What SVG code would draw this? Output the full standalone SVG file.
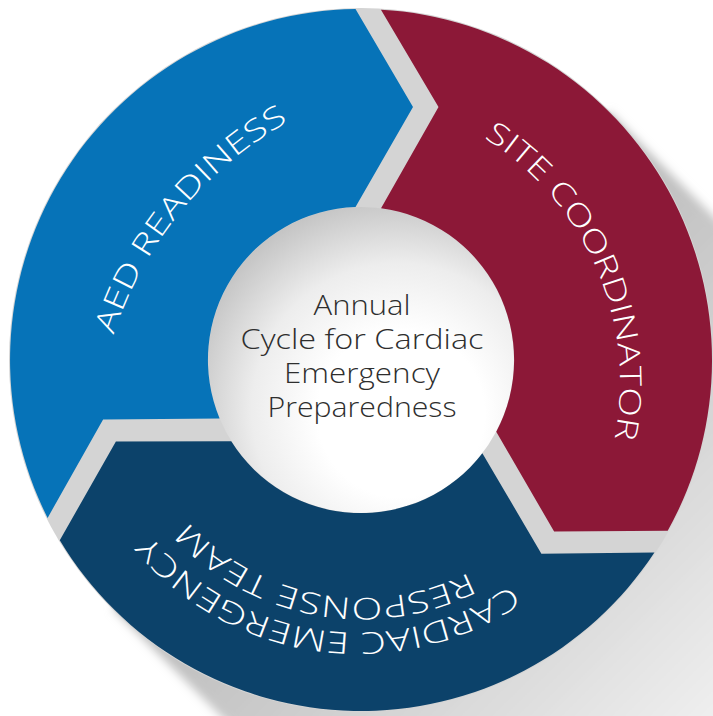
<svg xmlns="http://www.w3.org/2000/svg" width="713" height="716" viewBox="0 0 713 716">
<defs>
<style>
.lbl{font-family:"Open Sans","Noto Sans","DejaVu Sans",sans-serif;font-size:30px;font-weight:300;fill:#ffffff;}
.ctr{font-family:"Open Sans","Lato","Noto Sans",sans-serif;font-size:28px;font-weight:300;fill:#2e2e2e;text-anchor:middle;}
</style>
<linearGradient id="shadowGrad" gradientUnits="userSpaceOnUse" x1="361" y1="360" x2="900" y2="900">
<stop offset="0" stop-color="#b8b8b8"/>
<stop offset="0.35" stop-color="#d4d4d4"/>
<stop offset="0.7" stop-color="#f2f2f2"/>
<stop offset="1" stop-color="#ffffff"/>
</linearGradient>
<radialGradient id="discGrad" gradientUnits="userSpaceOnUse" cx="395" cy="405" r="209" fx="405" fy="420">
<stop offset="0.4" stop-color="#ffffff"/>
<stop offset="0.7" stop-color="#ededed"/>
<stop offset="1" stop-color="#c4c4c4"/>
</radialGradient>
<filter id="soft" x="-20%" y="-20%" width="140%" height="140%">
<feGaussianBlur stdDeviation="5"/>
</filter>
<path id="arrow" d="M 47.6 517.9 A 351 351 0 0 1 355.5 9 L 413 107 L 355.5 207 A 153 153 0 0 0 219.6 418.5 L 103.1 419.4 Z"/>
<path id="tpBlue" d="M 95.0 456.3 A 379 379 0 0 1 404.0 79.5"/>
<path id="tpMaroon" d="M 436.9 114.1 A 289 289 0 0 1 599.9 488.9"/>
<path id="tpNavyOuter" d="M 571.5 528.2 A 270.6 270.6 0 0 1 107.3 463.8"/>
<path id="tpNavyInner" d="M 542.5 514.3 A 236.5 236.5 0 0 1 139.4 441.4"/>
</defs>
<rect x="0" y="0" width="713" height="716" fill="#ffffff"/>
<g id="background">
<polygon points="609.2,111.8 1209,712 713,1208 112.8,608.2" fill="url(#shadowGrad)" filter="url(#soft)"/>
<circle cx="361" cy="360" r="352" fill="#d4d4d4"/>
<circle id="center-disc" cx="361" cy="360" r="153" fill="url(#discGrad)"/>
</g>
<g id="connectors"></g>
<g id="node-aed-readiness">
<use href="#arrow" fill="#0673b8"/>
<text class="lbl"><textPath href="#tpBlue" startOffset="50%" text-anchor="middle" textLength="282" lengthAdjust="spacingAndGlyphs">AED READINESS</textPath></text>
</g>
<g id="node-site-coordinator">
<use href="#arrow" fill="#8c1837" transform="rotate(120 361 360)"/>
<text class="lbl"><textPath href="#tpMaroon" startOffset="50%" text-anchor="middle" textLength="349" lengthAdjust="spacingAndGlyphs">SITE COORDINATOR</textPath></text>
</g>
<g id="node-cardiac-emergency-response-team">
<use href="#arrow" fill="#0c426a" transform="rotate(240 361 360)"/>
<text class="lbl"><textPath href="#tpNavyOuter" startOffset="50%" text-anchor="middle" textLength="400" lengthAdjust="spacingAndGlyphs">CARDIAC EMERGENCY</textPath></text>
<text class="lbl"><textPath href="#tpNavyInner" startOffset="50%" text-anchor="middle" textLength="307" lengthAdjust="spacingAndGlyphs">RESPONSE TEAM</textPath></text>
</g>
<g id="node-center">
<text class="ctr" x="362" y="315" textLength="97" lengthAdjust="spacingAndGlyphs">Annual</text>
<text class="ctr" x="362" y="349" textLength="243" lengthAdjust="spacingAndGlyphs">Cycle for Cardiac</text>
<text class="ctr" x="362" y="383" textLength="156" lengthAdjust="spacingAndGlyphs">Emergency</text>
<text class="ctr" x="362" y="417" textLength="189" lengthAdjust="spacingAndGlyphs">Preparedness</text>
</g>
</svg>
